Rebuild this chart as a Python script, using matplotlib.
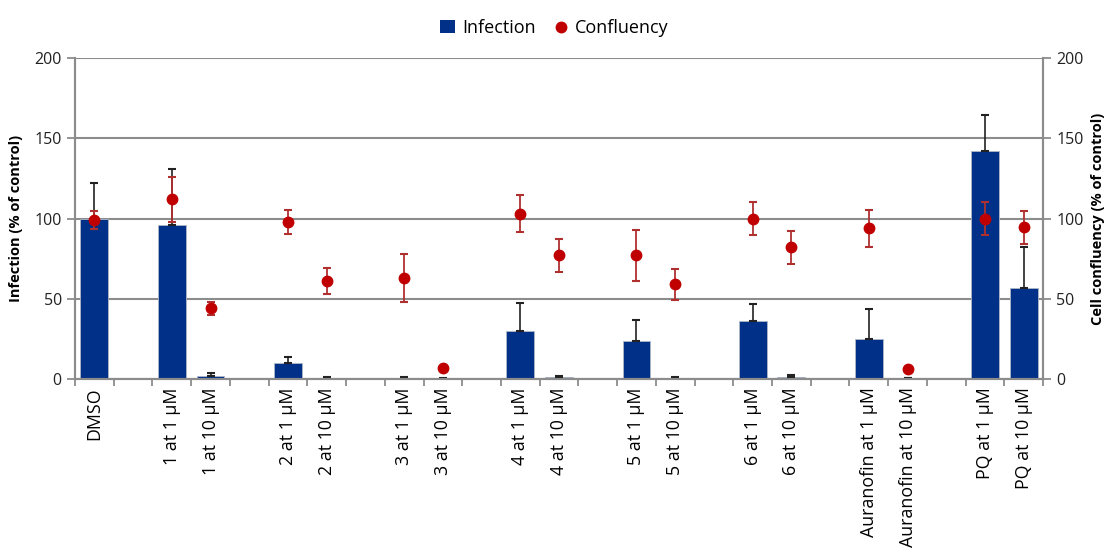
import numpy as np
import matplotlib
matplotlib.use("Agg")
import matplotlib.pyplot as plt
from matplotlib.lines import Line2D
from matplotlib.patches import Patch

plt.rcParams["font.family"] = ["Open Sans", "DejaVu Sans"]

# slots along x; "" = empty gap between groups
slots = ["DMSO", "", "1 at 1 µM", "1 at 10 µM", "", "2 at 1 µM", "2 at 10 µM", "",
         "3 at 1 µM", "3 at 10 µM", "", "4 at 1 µM", "4 at 10 µM", "",
         "5 at 1 µM", "5 at 10 µM", "", "6 at 1 µM", "6 at 10 µM", "",
         "Auranofin at 1 µM", "Auranofin at 10 µM", "", "PQ at 1 µM", "PQ at 10 µM"]

infection     = [100, 96, 2.0, 10, 0.5, 0.8, 0.3, 30, 1.0, 24, 0.7, 36, 1.5, 25, 0.5, 142, 57]
infection_err = [22, 35, 1.5, 3.5, 0.5, 0.4, 0.3, 17.5, 1.0, 13, 0.5, 10.5, 1.0, 18.5, 0.4, 22.5, 25]
confluency     = [99, 112, 44, 98, 61, 63, 7, 103, 77, 77, 59, 100, 82, 94, 6.5, 100, 94.5]
confluency_err = [5.5, 14, 4, 7.5, 8, 15, 0, 11.5, 10, 16, 9.5, 10, 10.5, 11.5, 0, 10.5, 10.5]

labels = [s for s in slots if s]
x = np.array([i for i, s in enumerate(slots) if s])

fig = plt.figure(figsize=(11.09, 5.55), dpi=100)
ax = fig.add_axes([0.0676, 0.317, 0.873, 0.5785])
ax2 = ax.twinx()

ax.bar(x, infection, width=0.72, color="#003087", edgecolor="#b0b8c8", lw=0.6, zorder=2)
ax.errorbar(x, infection, yerr=[np.zeros(len(x)), infection_err], fmt="none",
            ecolor="#222222", elinewidth=1.2, capsize=3, capthick=1.5, zorder=3)
ax2.errorbar(x, confluency, yerr=confluency_err, fmt="o", color="#c00000",
             ms=7.5, ecolor="#b03030", elinewidth=1.3, capsize=3, capthick=1.5, zorder=4)

for a in (ax, ax2):
    a.set_ylim(0, 200)
    a.set_yticks([0, 50, 100, 150, 200])
    a.set_xlim(-0.5, len(slots) - 0.5)
    for s in a.spines.values():
        s.set_color("#8c8c8c")
        s.set_linewidth(1.5)
    a.spines["top"].set_visible(False)
    a.tick_params(axis="y", colors="#8c8c8c", labelcolor="#222222", labelsize=11.5,
                  length=6, width=1.3)

ax.yaxis.grid(True, color="#8c8c8c", lw=1.5, zorder=0)
ax.set_axisbelow(True)

ax.set_xticks(x)
ax.set_xticklabels(labels, rotation=90, fontsize=12.8)
ax.tick_params(axis="x", length=0, pad=6)
ax.set_xticks(np.arange(-0.5, len(slots)), minor=True)
ax.tick_params(axis="x", which="minor", length=5, width=1.3, color="#8c8c8c")

ax.set_ylabel("Infection (% of control)", fontsize=10.5, fontweight="bold", labelpad=8)
ax2.set_ylabel("Cell confluency (% of control)", fontsize=10.5, fontweight="bold", labelpad=5)

handles = [Patch(facecolor="#003087", label="Infection"),
           Line2D([], [], marker="o", color="#c00000", lw=0, ms=7.5, label="Confluency")]
fig.legend(handles=handles, loc="upper center", bbox_to_anchor=(0.5, 0.995), ncol=2,
           frameon=False, fontsize=13, handlelength=0.8, handletextpad=0.4, columnspacing=1.0)

fig.savefig("out.png", dpi=100)
